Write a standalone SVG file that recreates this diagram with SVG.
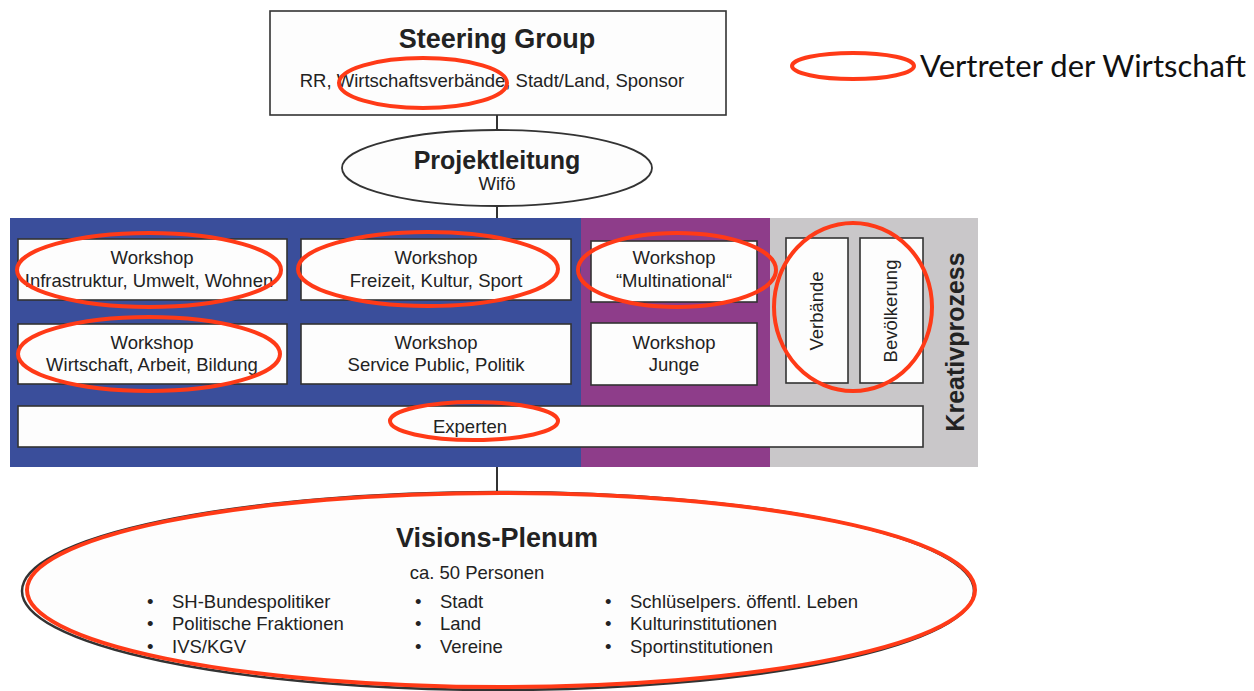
<svg xmlns="http://www.w3.org/2000/svg" width="1254" height="691" viewBox="0 0 1254 691">
<style>
text{font-family:"Liberation Sans",Arial,sans-serif;fill:#222}
.box{fill:#fdfdfd;stroke:#333;stroke-width:1.6}
.t{font-size:18.5px;text-anchor:middle}
.b{font-weight:bold;text-anchor:middle}
.red{fill:none;stroke:#ff3a17;stroke-width:4}
.li{font-size:18.5px}
.con{stroke:#333;stroke-width:2;fill:none}
</style>
<rect width="1254" height="691" fill="#ffffff"/>
<g id="connectors">
<line class="con" x1="497" y1="115" x2="497" y2="131"/>
<line class="con" x1="497" y1="206" x2="497" y2="219"/>
<line class="con" x1="497" y1="467" x2="497" y2="491"/>
</g>
<g id="steering-group">
<rect class="box" x="270" y="11" width="456" height="104"/>
<text class="b" x="497" y="48" font-size="27">Steering Group</text>
<text class="t" x="492" y="87">RR, Wirtschaftsverbände, Stadt/Land, Sponsor</text>
<ellipse class="red" cx="423" cy="83" rx="84" ry="25"/>
</g>
<g id="projektleitung">
<ellipse cx="497" cy="168" rx="155" ry="38" fill="#fdfdfd" stroke="#333" stroke-width="1.8"/>
<text class="b" x="497" y="169" font-size="25">Projektleitung</text>
<text class="t" x="497" y="190">Wifö</text>
</g>
<g id="kreativprozess">
<rect x="10" y="218" width="571" height="249" fill="#3a4e9b"/>
<rect x="581" y="218" width="189" height="249" fill="#8e3d8a"/>
<rect x="770" y="218" width="208" height="249" fill="#c9c7c9"/>
<text class="b" x="0" y="0" font-size="25" transform="translate(964,342) rotate(-90)">Kreativprozess</text>
</g>
<g id="ws-infrastruktur">
<rect class="box" x="18" y="239" width="269" height="61"/>
<text class="t" x="152" y="264">Workshop</text>
<text class="t" x="149" y="287">Infrastruktur, Umwelt, Wohnen</text>
<ellipse class="red" cx="149" cy="270" rx="132" ry="37"/>
</g>
<g id="ws-freizeit">
<rect class="box" x="301" y="239" width="270" height="61"/>
<text class="t" x="436" y="264">Workshop</text>
<text class="t" x="436" y="287">Freizeit, Kultur, Sport</text>
<ellipse class="red" cx="428" cy="269" rx="130" ry="37"/>
</g>
<g id="ws-multinational">
<rect class="box" x="591" y="241" width="166" height="61"/>
<text class="t" x="674" y="264">Workshop</text>
<text class="t" x="674" y="287">“Multinational“</text>
<ellipse class="red" cx="677" cy="270" rx="99" ry="37"/>
</g>
<g id="ws-wirtschaft">
<rect class="box" x="18" y="324" width="269" height="60"/>
<text class="t" x="152" y="349">Workshop</text>
<text class="t" x="152" y="371">Wirtschaft, Arbeit, Bildung</text>
<ellipse class="red" cx="149" cy="354" rx="131" ry="37"/>
</g>
<g id="ws-service-public">
<rect class="box" x="301" y="324" width="270" height="60"/>
<text class="t" x="436" y="349">Workshop</text>
<text class="t" x="436" y="371">Service Public, Politik</text>
</g>
<g id="ws-junge">
<rect class="box" x="591" y="323" width="166" height="62"/>
<text class="t" x="674" y="349">Workshop</text>
<text class="t" x="674" y="371">Junge</text>
</g>
<g id="verbaende">
<rect class="box" x="786" y="238" width="62" height="145"/>
<text class="t" transform="translate(823,311) rotate(-90)">Verbände</text>
</g>
<g id="bevoelkerung">
<rect class="box" x="860" y="238" width="63" height="145"/>
<text class="t" transform="translate(897,311) rotate(-90)">Bevölkerung</text>
</g>
<ellipse class="red" cx="853" cy="307" rx="79" ry="84"/>
<g id="experten">
<rect class="box" x="18" y="406" width="905" height="41"/>
<text class="t" x="470" y="433">Experten</text>
<ellipse class="red" cx="474" cy="421" rx="84" ry="19"/>
</g>
<g id="visions-plenum">
<ellipse cx="498" cy="591" rx="476" ry="99" fill="#fdfdfd" stroke="#333" stroke-width="2.5"/>
<ellipse class="red" cx="501" cy="590" rx="474" ry="97"/>
<text class="b" x="497" y="547" font-size="27">Visions-Plenum</text>
<text class="t" x="477" y="579">ca. 50 Personen</text>
<g class="li">
<text x="147" y="608">•</text><text x="172" y="608">SH-Bundespolitiker</text>
<text x="147" y="630">•</text><text x="172" y="630">Politische Fraktionen</text>
<text x="147" y="653">•</text><text x="172" y="653">IVS/KGV</text>
<text x="415" y="608">•</text><text x="440" y="608">Stadt</text>
<text x="415" y="630">•</text><text x="440" y="630">Land</text>
<text x="415" y="653">•</text><text x="440" y="653">Vereine</text>
<text x="605" y="608">•</text><text x="630" y="608">Schlüselpers. öffentl. Leben</text>
<text x="605" y="630">•</text><text x="630" y="630">Kulturinstitutionen</text>
<text x="605" y="653">•</text><text x="630" y="653">Sportinstitutionen</text>
</g>
</g>
<g id="legend">
<ellipse class="red" cx="853" cy="66" rx="61" ry="13"/>
<text x="920" y="77" font-size="31" style="font-family:Lato,'Liberation Sans',sans-serif;fill:#111">Vertreter der Wirtschaft</text>
</g>
</svg>
